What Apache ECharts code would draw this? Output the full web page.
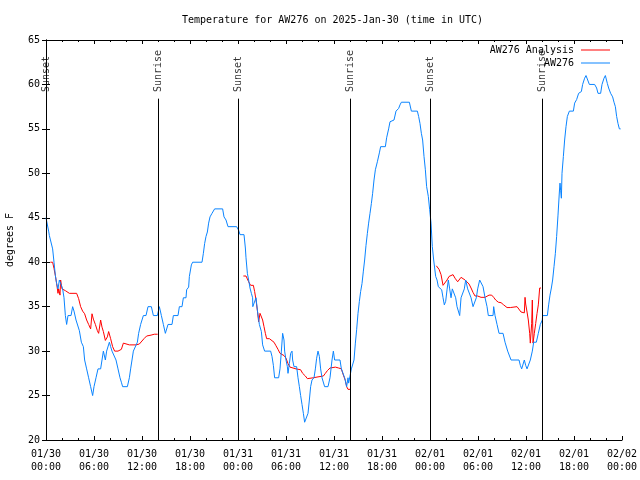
<!DOCTYPE html>
<html>
<head>
<meta charset="utf-8">
<script src="https://cdn.jsdelivr.net/npm/echarts@6/dist/echarts.min.js"></script>
<style>
html,body{margin:0;padding:0;background:#fff;}
#chart{width:640px;height:480px;}
</style>
</head>
<body>
<div id="chart"></div>
<script>
// ---- data (x = hours since 2025-01-30 00:00 UTC, y = degrees F) ----
var titleText = 'Temperature for AW276 on 2025-Jan-30 (time in UTC)';
var xTickLabels = ['01/30\n00:00','01/30\n06:00','01/30\n12:00','01/30\n18:00','01/31\n00:00','01/31\n06:00','01/31\n12:00','01/31\n18:00','02/01\n00:00','02/01\n06:00','02/01\n12:00','02/01\n18:00','02/02\n00:00'];
var sunEventHours = [0, 14, 24, 38, 48, 62];
var sunEventNames = ['Sunset','Sunrise','Sunset','Sunrise','Sunset','Sunrise'];

var analysisNight1 = [[0.54,40],[0.83,40],[1.0,39.3],[1.17,38.5],[1.33,37.6],[1.5,36.5],[1.58,37],[1.75,36.3],[1.83,38],[2.0,37],[2.17,37],[2.42,36.8],[2.67,36.8],[2.92,36.5],[3.83,36.5],[4.08,35.9],[4.33,35],[4.58,34.5],[4.83,34.2],[5.08,33.5],[5.33,33],[5.58,32.5],[5.75,34.2],[5.92,33.6],[6.17,33],[6.42,32.3],[6.58,32],[6.83,33.5],[7.0,32.7],[7.17,32.2],[7.42,31.2],[7.67,31.6],[7.83,32.2],[8.08,31.4],[8.33,30.5],[8.58,30],[9.0,30],[9.42,30.2],[9.67,30.9],[9.92,30.8],[10.42,30.7],[11.25,30.7],[11.67,30.8],[11.92,31],[12.25,31.4],[12.58,31.7],[13.13,31.8],[13.54,31.9],[13.96,31.9]];
var analysisNight2 = [[24.67,38.45],[25.0,38.45],[25.33,37.8],[25.58,37.4],[25.92,37.4],[26.08,36.7],[26.25,35.75],[26.42,34.6],[26.58,33.3],[26.75,34.25],[26.92,34.25],[27.08,33.5],[27.25,32.75],[27.42,32],[27.58,31.4],[27.75,31.25],[27.92,31.4],[28.17,31.2],[28.5,31],[28.75,30.6],[29.0,30.2],[29.25,29.75],[29.5,29.6],[29.75,29.5],[30.0,29.2],[30.25,28.6],[30.5,28.2],[30.75,28.1],[31.25,28],[31.83,27.9],[32.08,27.5],[32.42,27.2],[32.67,26.9],[33.42,27],[34.0,27.1],[34.67,27.2],[34.92,27.5],[35.17,27.8],[35.5,28.1],[35.75,28.3],[36.17,28.2],[36.58,28.1],[36.92,28],[37.17,27.3],[37.42,26.7],[37.58,26],[37.75,25.7],[38.0,25.7]];
var analysisNight3 = [[48.79,39.6],[48.96,39.8],[49.13,39.2],[49.38,38.6],[49.63,37.4],[49.88,37.25],[50.13,38],[50.38,38.4],[50.63,38.6],[50.88,38.6],[51.13,38.2],[51.46,37.8],[51.71,37.6],[51.88,38.3],[52.13,38.1],[52.38,38],[52.63,37.9],[52.88,37.55],[53.13,37.1],[53.38,36.6],[53.63,36.2],[53.96,36.2],[54.38,36.05],[54.88,36.05],[55.13,36.2],[55.38,36.3],[55.71,36.3],[55.96,36.05],[56.21,35.75],[56.54,35.5],[56.88,35.45],[57.21,35.2],[57.63,34.9],[58.04,34.9],[58.29,35],[58.88,35],[59.13,34.8],[59.38,34.4],[59.63,34.25],[59.79,34.3],[59.88,36.05],[59.96,35.3],[60.13,34.4],[60.29,33.5],[60.46,32],[60.54,30.9],[60.71,33.1],[60.79,35.75],[60.88,30.9],[61.04,32],[61.21,33.1],[61.38,34.25],[61.54,35.2],[61.71,37.1],[61.88,37.1]];

var observed = [[0,45],[0.21,45],[0.33,43.5],[0.42,43],[0.67,43],[0.83,41.5],[1.0,40],[1.17,38.5],[1.33,37.6],[1.5,37],[1.67,38],[1.92,38],[2.08,37],[2.25,36],[2.42,34],[2.58,33],[2.75,34],[3.13,34],[3.33,35],[3.5,34.5],[3.75,33.5],[4.0,33.5],[4.17,32.3],[4.42,31],[4.67,30.5],[4.83,29],[5.08,28],[5.33,27],[5.58,26],[5.83,25],[6.0,26],[6.25,27],[6.5,28],[6.83,28],[7.0,29],[7.17,30],[7.42,29],[7.58,30],[7.75,30],[7.92,31],[8.08,30.5],[8.25,30],[8.5,30],[8.75,29],[9.0,28],[9.25,27],[9.42,26.5],[9.58,26],[10.17,26],[10.42,27],[10.58,28],[10.75,29],[10.92,30],[11.17,30],[11.42,31],[11.58,32],[11.83,33],[12.17,34],[12.5,34],[12.75,35],[13.17,35],[13.42,34],[13.92,34],[14.17,35],[14.42,34],[14.67,33],[14.92,32],
[15.08,32],[15.25,33],[15.75,33],[15.92,34],[16.5,34],[16.67,35],[17.0,35],[17.17,36],[17.5,36],[17.58,36.9],[17.83,37.2],[17.92,38.4],[18.17,39.7],[18.33,40],[19.5,40],[19.67,41],[19.83,42.1],[20.0,42.9],[20.17,43.4],[20.33,44.4],[20.5,45.1],[20.75,45.5],[21.08,46],[22.08,46],[22.25,45.1],[22.5,44.75],[22.75,44],[23.83,44],[24.08,43.6],[24.25,43.1],[24.75,43.1],[24.92,41.6],
[25.0,40.5],[25.17,38.75],[25.33,38],[25.5,37.1],[25.67,36.5],[25.83,36],[25.85,35],[26.08,35],[26.25,36],[26.42,34.6],[26.67,33],[26.92,32.2],[27.08,30.7],[27.33,30],[28.08,30],[28.25,29.4],[28.42,28.4],[28.58,27],[29.08,27],[29.25,28],[29.42,30],[29.58,32],[29.75,31.25],[29.83,30],[30.0,29],[30.17,28.25],[30.25,27.5],[30.42,28.6],[30.58,29.75],[30.75,30],[30.83,29],[31.0,28.25],[31.33,28.25],[31.5,27],[31.67,26],[31.83,25],[32.0,24],[32.17,23],[32.33,22],[32.58,22],[32.75,23],[32.92,24.5],[33.08,26],[33.25,26.75],[33.5,27],[33.67,28],[33.83,29.2],[34.0,30],[34.17,29.4],[34.33,28],[34.5,27],[34.67,27],[34.83,26],[35.25,26],[35.5,27],[35.75,29],[35.92,30],[36.08,29],[36.75,29],[36.92,28],[37.17,28],[37.33,27],[37.58,26],[37.75,27],[37.83,26.4],[38.0,27.2],[38.17,28],[38.42,28],
[38.5,29],[38.67,30.9],[38.83,32.4],[39.0,34.25],[39.17,35.6],[39.33,36.7],[39.5,37.6],[39.67,39],[39.83,40.25],[40.0,41.9],[40.17,43.25],[40.33,44.4],[40.5,45.5],[40.67,46.6],[40.83,47.75],[41.0,49.25],[41.17,50.4],[41.42,51.3],[41.67,52.3],[41.83,53],[42.42,53],[42.58,54],[42.83,55],[43.0,55.8],[43.17,56],[43.5,56],[43.75,57],[44.08,57.3],[44.25,57.7],[44.42,58],[45.42,58],[45.67,57],[46.42,57],[46.58,56.4],[46.75,55.6],[46.92,54.5],[47.08,53.75],[47.25,51.9],[47.42,50.4],[47.58,48.5],[47.79,47.4],[47.96,45.9],[48.13,44.4],[48.29,41.75],[48.46,40.25],[48.63,40.25],[48.71,38.4],[48.88,38],[49.04,37.25],
[49.21,37.1],[49.46,36.9],[49.63,36],[49.79,35.2],[49.96,35.6],[50.13,36.9],[50.29,38],[50.46,37],[50.63,36],[50.79,37],[51.04,37],[51.21,36],[51.38,35],[51.63,35],[51.71,34],[51.88,36],[52.13,36],[52.29,37],[52.46,38],[52.63,38],[52.71,37],[52.96,37],[53.13,36],[53.38,35],[53.63,35],[53.79,36],[53.96,37],[54.21,38],[54.46,38],[54.63,37.25],[54.88,36],[55.13,35],[55.29,34],[55.88,34],[55.96,35],[56.13,34],[56.38,33],[56.63,32],[57.13,32],[57.38,31],[57.71,30],[58.13,29],[59.13,29],[59.29,28.4],[59.46,28],[59.63,28],[59.79,29],[59.96,28.4],[60.13,28],[60.38,28],[60.54,29],[60.79,30],[60.96,31],[61.29,31],[61.54,32],[61.79,33],[62.04,33.5],
[62.08,34],[62.67,34],[62.83,35.2],[63.0,36.3],[63.17,37.1],[63.33,38],[63.5,39.5],[63.67,41],[63.83,42.9],[64.0,45.3],[64.17,47.9],[64.25,48.9],[64.33,48.1],[64.42,47.2],[64.5,50],[64.67,51.9],[64.83,53.75],[65.0,55.25],[65.17,56.4],[65.42,57],[65.92,57],[66.08,57.9],[66.33,58.3],[66.58,59],[66.92,59.2],[67.08,60],[67.33,60.7],[67.5,61],[67.75,61],[67.92,60],[68.58,60],[68.83,59.6],[69.0,59],[69.33,59],[69.5,60],[69.75,60.7],[69.92,61],[70.17,60.1],[70.33,59.6],[70.58,59],[70.83,58.6],[71.0,58],[71.17,57.5],[71.33,56.4],[71.5,55.6],[71.67,55],[71.83,55]];

// ---- presentation ----
var FONT = 'DejaVu Sans Mono';
var RED = '#ff0000';
var BLUE = '#0a84ff';
var sunLabelY = 59.15;
var sunLineTop = 58.4;

function redSeries(d) {
  return {
    name: 'AW276 Analysis', type: 'line', data: d, showSymbol: false, symbol: 'none',
    lineStyle: { color: RED, width: 1 }, itemStyle: { color: RED }, z: 3
  };
}

var chart = echarts.init(document.getElementById('chart'), null, { renderer: 'canvas' });
var axisCommon = {
  axisLine: { show: true, lineStyle: { color: '#000', width: 1 } },
  splitLine: { show: false }
};
chart.setOption({
  animation: false,
  backgroundColor: '#fff',
  textStyle: { fontFamily: FONT },
  title: {
    text: titleText, left: 182, top: 15, padding: 0,
    textStyle: { fontFamily: FONT, fontSize: 10, fontWeight: 'normal', color: '#000' }
  },
  legend: [
    { data: ['AW276 Analysis'], right: 30, top: 45, padding: 0, align: 'right', orient: 'vertical',
      icon: 'rect', itemWidth: 29, itemHeight: 1, selectedMode: false,
      textStyle: { fontFamily: FONT, fontSize: 10, color: '#000', padding: [0, 2, 0, 0] } },
    { data: ['AW276'], right: 30, top: 58, padding: 0, align: 'right', orient: 'vertical',
      icon: 'rect', itemWidth: 29, itemHeight: 1, selectedMode: false,
      textStyle: { fontFamily: FONT, fontSize: 10, color: '#000', padding: [0, 2, 0, 0] } }
  ],
  grid: { left: 46, right: 18, top: 40, bottom: 40, containLabel: false, outerBoundsMode: 'none' },
  xAxis: [
    Object.assign({
      type: 'value', position: 'bottom', min: 0, max: 72, interval: 6,
      axisTick: { show: true, inside: true, length: 4, lineStyle: { color: '#000' } },
      minorTick: { show: true, splitNumber: 3, length: 2, lineStyle: { color: '#000' } },
      minorSplitLine: { show: false },
      axisLabel: {
        show: true, margin: 8, fontFamily: FONT, fontSize: 10, color: '#000', lineHeight: 13,
        showMinLabel: true, showMaxLabel: true, hideOverlap: false,
        formatter: function (v) { return xTickLabels[Math.round(v / 6)]; }
      }
    }, axisCommon),
    Object.assign({
      type: 'value', position: 'top', min: 0, max: 72, interval: 6,
      axisTick: { show: true, inside: true, length: 4, lineStyle: { color: '#000' } },
      minorTick: { show: true, splitNumber: 3, length: 2, lineStyle: { color: '#000' } },
      axisLabel: { show: false }
    }, axisCommon)
  ],
  yAxis: [
    Object.assign({
      type: 'value', position: 'left', min: 20, max: 65, interval: 5,
      name: 'degrees F', nameLocation: 'middle', nameGap: 31, nameRotate: 90,
      nameTextStyle: { fontFamily: FONT, fontSize: 10, color: '#000' },
      axisTick: { show: true, inside: true, length: 4, lineStyle: { color: '#000' } },
      axisLabel: { show: true, margin: 6, fontFamily: FONT, fontSize: 10, color: '#000' }
    }, axisCommon),
    Object.assign({
      type: 'value', position: 'right', min: 20, max: 65, interval: 5,
      axisTick: { show: true, inside: true, length: 4, lineStyle: { color: '#000' } },
      axisLabel: { show: false }
    }, axisCommon)
  ],
  series: [
    {
      name: 'sun', type: 'scatter', symbolSize: 1, silent: true,
      itemStyle: { color: 'rgba(0,0,0,0)' },
      data: sunEventHours.map(function (h, i) { return { value: [h, sunLabelY], name: sunEventNames[i] }; }),
      label: {
        show: true, position: 'inside', rotate: 90, align: 'left', verticalAlign: 'middle',
        fontFamily: FONT, fontSize: 10, color: '#000',
        formatter: function (p) { return p.name; }
      },
      markLine: {
        silent: true, symbol: 'none', animation: false,
        label: { show: false },
        lineStyle: { color: '#000', width: 1, type: 'solid' },
        emphasis: { disabled: true },
        data: sunEventHours.map(function (h) { return [{ coord: [h, 20] }, { coord: [h, sunLineTop] }]; })
      },
      z: 2
    },
    redSeries(analysisNight1),
    redSeries(analysisNight2),
    redSeries(analysisNight3),
    {
      name: 'AW276', type: 'line', data: observed, showSymbol: false, symbol: 'none',
      lineStyle: { color: BLUE, width: 1 }, itemStyle: { color: BLUE }, z: 4
    }
  ]
});
</script>
</body>
</html>
